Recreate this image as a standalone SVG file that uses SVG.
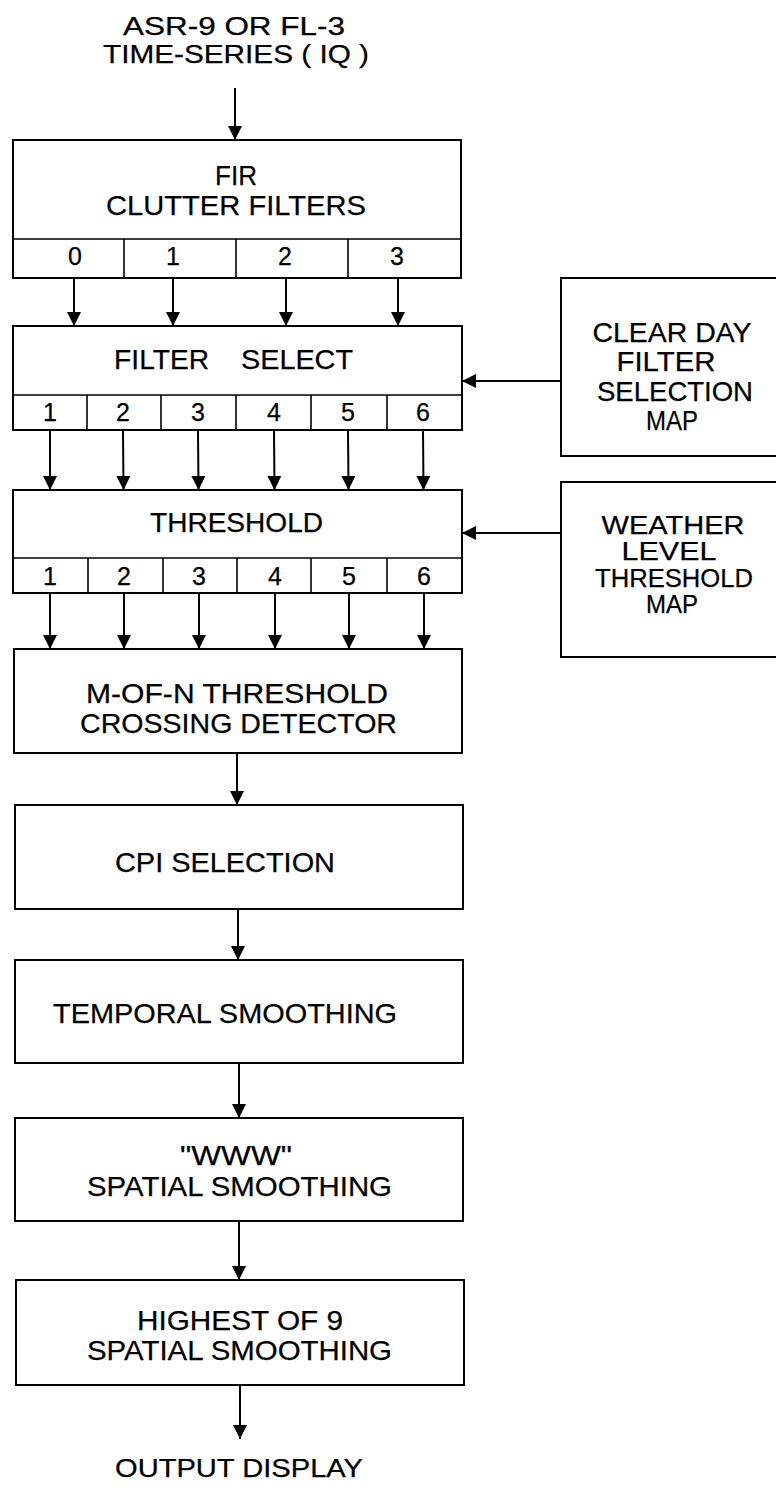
<svg xmlns="http://www.w3.org/2000/svg" width="776" height="1491" viewBox="0 0 776 1491">
<defs>
<marker id="ah" markerUnits="userSpaceOnUse" markerWidth="14" markerHeight="14" refX="14" refY="7" orient="auto" viewBox="0 0 14 14">
<path d="M0,0 L14,7 L0,14 z" fill="#000"/>
</marker>
</defs>
<style>
text{font-family:"Liberation Sans",Arial,sans-serif;fill:#000;stroke:#000;stroke-width:0.25;text-anchor:middle}
.t{font-size:28px}
.w{font-size:25px}
.s{font-size:25px}
.d{font-size:25px}
.box{fill:#fff;stroke:#000;stroke-width:2}
.div{stroke:#000;stroke-width:1.6;fill:none}
.c{stroke:#000;stroke-width:2;fill:none;marker-end:url(#ah)}
</style>
<rect width="776" height="1491" fill="#fff"/>

<g id="input-label">
<text class="s" x="234" y="35" textLength="222" lengthAdjust="spacingAndGlyphs">ASR-9 OR FL-3</text>
<text class="s" x="236" y="63" textLength="266" lengthAdjust="spacingAndGlyphs">TIME-SERIES ( IQ )</text>
</g>

<g id="fir">
<rect class="box" x="13" y="140" width="448" height="138"/>
<line class="div" x1="13" y1="239" x2="461" y2="239"/>
<line class="div" x1="124" y1="239" x2="124" y2="278"/>
<line class="div" x1="236" y1="239" x2="236" y2="278"/>
<line class="div" x1="348" y1="239" x2="348" y2="278"/>
<text class="t" x="236" y="185" textLength="42" lengthAdjust="spacingAndGlyphs">FIR</text>
<text class="t" x="236" y="215" textLength="260" lengthAdjust="spacingAndGlyphs">CLUTTER FILTERS</text>
<text class="d" x="75" y="265">0</text>
<text class="d" x="173" y="265">1</text>
<text class="d" x="285" y="265">2</text>
<text class="d" x="397" y="265">3</text>
</g>

<g id="filter-select">
<rect class="box" x="13" y="326" width="449" height="104"/>
<line class="div" x1="13" y1="395" x2="462" y2="395"/>
<line class="div" x1="87" y1="395" x2="87" y2="430"/>
<line class="div" x1="161" y1="395" x2="161" y2="430"/>
<line class="div" x1="236" y1="395" x2="236" y2="430"/>
<line class="div" x1="311" y1="395" x2="311" y2="430"/>
<line class="div" x1="387" y1="395" x2="387" y2="430"/>
<text class="t" y="369"><tspan x="165.5" textLength="95" lengthAdjust="spacingAndGlyphs">FILTER</tspan> <tspan x="297" textLength="112" lengthAdjust="spacingAndGlyphs">SELECT</tspan></text>
<text class="d" x="50" y="421">1</text>
<text class="d" x="123" y="421">2</text>
<text class="d" x="198" y="421">3</text>
<text class="d" x="274" y="421">4</text>
<text class="d" x="348" y="421">5</text>
<text class="d" x="423" y="421">6</text>
</g>

<g id="threshold">
<rect class="box" x="13" y="490" width="449" height="103"/>
<line class="div" x1="13" y1="558" x2="462" y2="558"/>
<line class="div" x1="88" y1="558" x2="88" y2="593"/>
<line class="div" x1="163" y1="558" x2="163" y2="593"/>
<line class="div" x1="237" y1="558" x2="237" y2="593"/>
<line class="div" x1="311" y1="558" x2="311" y2="593"/>
<line class="div" x1="387" y1="558" x2="387" y2="593"/>
<text class="t" x="236.5" y="532" textLength="173" lengthAdjust="spacingAndGlyphs">THRESHOLD</text>
<text class="d" x="50" y="585">1</text>
<text class="d" x="124" y="585">2</text>
<text class="d" x="199" y="585">3</text>
<text class="d" x="275" y="585">4</text>
<text class="d" x="349" y="585">5</text>
<text class="d" x="424" y="585">6</text>
</g>

<g id="clear-day-map">
<rect class="box" x="561" y="278" width="230" height="178"/>
<text class="t" x="672" y="342" textLength="159" lengthAdjust="spacingAndGlyphs">CLEAR DAY</text>
<text class="t" x="666" y="371" textLength="99" lengthAdjust="spacingAndGlyphs">FILTER</text>
<text class="t" x="675" y="401" textLength="156" lengthAdjust="spacingAndGlyphs">SELECTION</text>
<text class="t" x="672" y="430" textLength="52" lengthAdjust="spacingAndGlyphs">MAP</text>
</g>

<g id="weather-map">
<rect class="box" x="561" y="482" width="230" height="175"/>
<text class="w" x="673" y="534" textLength="143" lengthAdjust="spacingAndGlyphs">WEATHER</text>
<text class="w" x="669" y="560" textLength="95" lengthAdjust="spacingAndGlyphs">LEVEL</text>
<text class="w" x="674" y="587" textLength="158" lengthAdjust="spacingAndGlyphs">THRESHOLD</text>
<text class="w" x="672" y="613" textLength="52" lengthAdjust="spacingAndGlyphs">MAP</text>
</g>

<g id="m-of-n">
<rect class="box" x="14" y="649" width="448" height="104"/>
<text class="t" x="237" y="703" textLength="302" lengthAdjust="spacingAndGlyphs">M-OF-N THRESHOLD</text>
<text class="t" x="238.5" y="733" textLength="317" lengthAdjust="spacingAndGlyphs">CROSSING DETECTOR</text>
</g>

<g id="cpi">
<rect class="box" x="15" y="805" width="448" height="104"/>
<text class="t" x="225" y="872" textLength="220" lengthAdjust="spacingAndGlyphs">CPI SELECTION</text>
</g>

<g id="temporal">
<rect class="box" x="15" y="960" width="448" height="103"/>
<text class="t" x="225" y="1023" textLength="344" lengthAdjust="spacingAndGlyphs">TEMPORAL SMOOTHING</text>
</g>

<g id="www">
<rect class="box" x="15" y="1118" width="448" height="103"/>
<text class="t" x="236" y="1165" textLength="112" lengthAdjust="spacingAndGlyphs">"WWW"</text>
<text class="t" x="239.5" y="1196" textLength="305" lengthAdjust="spacingAndGlyphs">SPATIAL SMOOTHING</text>
</g>

<g id="highest">
<rect class="box" x="16" y="1280" width="448" height="105"/>
<text class="t" x="240" y="1330" textLength="206" lengthAdjust="spacingAndGlyphs">HIGHEST OF 9</text>
<text class="t" x="239.5" y="1360" textLength="305" lengthAdjust="spacingAndGlyphs">SPATIAL SMOOTHING</text>
</g>

<g id="output-label">
<text class="s" x="239" y="1477" textLength="248" lengthAdjust="spacingAndGlyphs">OUTPUT DISPLAY</text>
</g>

<g id="connectors">
<line class="c" x1="235" y1="88" x2="235" y2="140"/>
<line class="c" x1="74" y1="278" x2="74" y2="326"/>
<line class="c" x1="173" y1="278" x2="173" y2="326"/>
<line class="c" x1="286" y1="278" x2="286" y2="326"/>
<line class="c" x1="398" y1="278" x2="398" y2="326"/>
<line class="c" x1="50" y1="430" x2="50" y2="490"/>
<line class="c" x1="123" y1="430" x2="123.5" y2="490"/>
<line class="c" x1="198" y1="430" x2="198.5" y2="490"/>
<line class="c" x1="274" y1="430" x2="274.5" y2="490"/>
<line class="c" x1="348" y1="430" x2="348.5" y2="490"/>
<line class="c" x1="423" y1="430" x2="423.5" y2="490"/>
<line class="c" x1="50" y1="593" x2="50" y2="649"/>
<line class="c" x1="124" y1="593" x2="124" y2="649"/>
<line class="c" x1="199" y1="593" x2="199" y2="649"/>
<line class="c" x1="275" y1="593" x2="275" y2="649"/>
<line class="c" x1="349" y1="593" x2="349" y2="649"/>
<line class="c" x1="424" y1="593" x2="424" y2="649"/>
<line class="c" x1="561" y1="381" x2="462" y2="381"/>
<line class="c" x1="561" y1="533" x2="462" y2="533"/>
<line class="c" x1="237" y1="753" x2="237" y2="805"/>
<line class="c" x1="238" y1="909" x2="238" y2="960"/>
<line class="c" x1="239" y1="1063" x2="239" y2="1118"/>
<line class="c" x1="239" y1="1221" x2="239" y2="1280"/>
<line class="c" x1="240" y1="1385" x2="240" y2="1439"/>
</g>
</svg>
